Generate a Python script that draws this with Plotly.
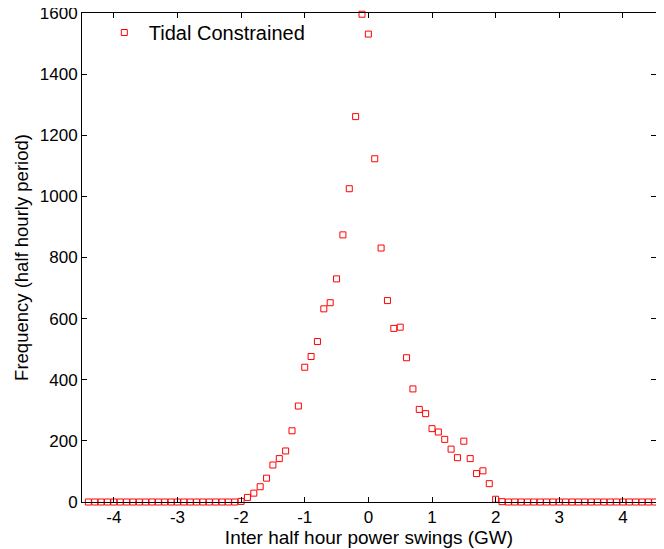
import plotly.graph_objects as go

swing_gw = [-4.4, -4.3, -4.2, -4.1, -4.0, -3.9, -3.8, -3.7, -3.6, -3.5,
            -3.4, -3.3, -3.2, -3.1, -3.0, -2.9, -2.8, -2.7, -2.6, -2.5,
            -2.4, -2.3, -2.2, -2.1, -2.0, -1.9, -1.8, -1.7, -1.6, -1.5,
            -1.4, -1.3, -1.2, -1.1, -1.0, -0.9, -0.8, -0.7, -0.6, -0.5,
            -0.4, -0.3, -0.2, -0.1, 0.0, 0.1, 0.2, 0.3, 0.4, 0.5,
            0.6, 0.7, 0.8, 0.9, 1.0, 1.1, 1.2, 1.3, 1.4, 1.5,
            1.6, 1.7, 1.8, 1.9, 2.0, 2.1, 2.2, 2.3, 2.4, 2.5,
            2.6, 2.7, 2.8, 2.9, 3.0, 3.1, 3.2, 3.3, 3.4, 3.5,
            3.6, 3.7, 3.8, 3.9, 4.0, 4.1, 4.2, 4.3, 4.4, 4.5]

frequency = [0, 0, 0, 0, 0, 0, 0, 0, 0, 0,
             0, 0, 0, 0, 0, 0, 0, 0, 0, 0,
             0, 0, 0, 0, 2, 15, 29, 50, 78, 121,
             142, 167, 233, 314, 441, 476, 525, 632, 652, 730,
             874, 1025, 1261, 1596, 1531, 1123, 831, 659, 568, 572,
             472, 370, 303, 289, 240, 229, 205, 173, 145, 199,
             142, 93, 102, 60, 9, 1, 0, 0, 0, 0,
             0, 0, 0, 0, 0, 0, 0, 0, 0, 0,
             0, 0, 0, 0, 0, 0, 0, 0, 0, 0]

x_ticks = [-4, -3, -2, -1, 0, 1, 2, 3, 4]
x_tick_labels = ["-4", "-3", "-2", "-1", "0", "1", "2", "3", "4"]
y_ticks = [0, 200, 400, 600, 800, 1000, 1200, 1400, 1600]
y_tick_labels = ["0", "200", "400", "600", "800", "1000", "1200", "1400", "1600"]

FONT = "Liberation Sans, Arial, sans-serif"

fig = go.Figure()
fig.add_trace(go.Scatter(
    x=swing_gw, y=frequency, mode="markers", name="Tidal Constrained",
    marker=dict(symbol="square-open", size=6, color="red",
                line=dict(width=1, color="red")),
    cliponaxis=False,
))

axis_common = dict(
    showline=True, linecolor="black", linewidth=1, mirror="ticks",
    ticks="inside", ticklen=5, tickcolor="black", tickwidth=1,
    showgrid=False, zeroline=False, automargin=False,
    ticklabeloverflow="allow",
    tickfont=dict(family=FONT, size=17, color="black"),
)

fig.update_layout(
    width=664, height=549,
    margin=dict(l=74, r=16, t=5, b=55),
    paper_bgcolor="white", plot_bgcolor="white",
    showlegend=True,
    legend=dict(x=0.031, y=1.0, xanchor="left", yanchor="top",
                itemwidth=39,
                bgcolor="rgba(0,0,0,0)", borderwidth=0,
                font=dict(family=FONT, size=20, color="black")),
    xaxis=dict(range=[-4.5, 4.52], tickvals=x_ticks, ticktext=x_tick_labels,
               title=dict(text="Inter half hour power swings (GW)", standoff=0,
                          font=dict(family=FONT, size=19, color="black")),
               **axis_common),
    yaxis=dict(range=[0, 1600], tickvals=y_ticks, ticktext=y_tick_labels,
               title=dict(text="Frequency (half hourly period)", standoff=6,
                          font=dict(family=FONT, size=18.5, color="black")),
               **axis_common),
)

fig.write_html("out.html")
